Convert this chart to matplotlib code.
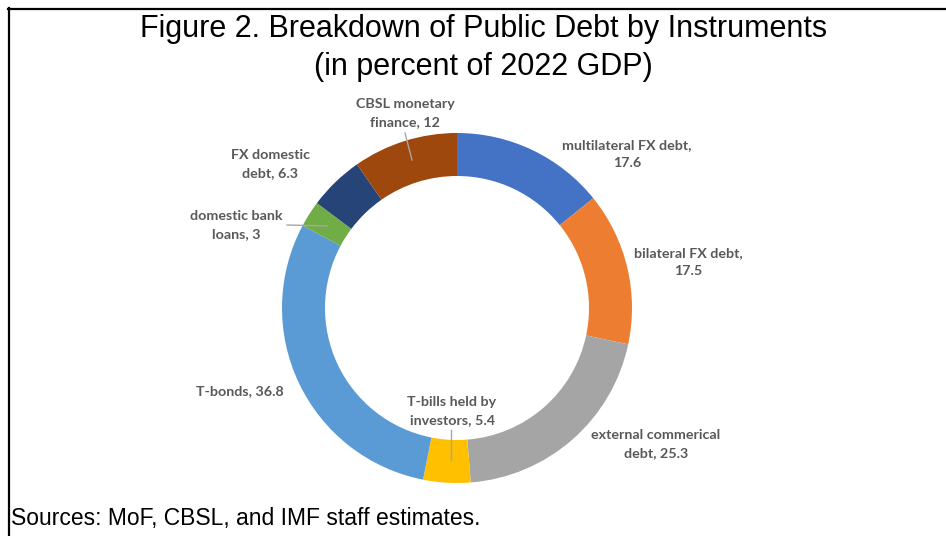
import matplotlib
matplotlib.use("Agg")
import matplotlib.pyplot as plt
from matplotlib.lines import Line2D

# Debt instruments, clockwise from 12 o'clock (percent of 2022 GDP)
categories = [
    "multilateral FX debt",
    "bilateral FX debt",
    "external commerical debt",
    "T-bills held by investors",
    "T-bonds",
    "domestic bank loans",
    "FX domestic debt",
    "CBSL monetary finance",
]
values = [17.6, 17.5, 25.3, 5.4, 36.8, 3, 6.3, 12]
label_names = [
    "multilateral FX debt,",
    "bilateral FX debt,",
    "external commerical\ndebt,",
    "T-bills held by\ninvestors,",
    "T-bonds,",
    "domestic bank\nloans,",
    "FX domestic\ndebt,",
    "CBSL monetary\nfinance,",
]
colors = ["#4472C4", "#ED7D31", "#A5A5A5", "#FFC000",
          "#5B9BD5", "#70AD47", "#264478", "#9E480E"]

W, H = 946, 536
fig = plt.figure(figsize=(W / 100, H / 100), dpi=100)
ax = fig.add_axes([0, 0, 1, 1])

def fy(y):
    # convert a top-down pixel row into the axes' upward y
    return H - y

cx, cy, r_out, ring = 457, 308, 175, 43
ax.pie(values, colors=colors, startangle=90, counterclock=False,
       center=(cx, fy(cy)), radius=r_out, frame=True,
       wedgeprops=dict(width=ring, linewidth=0))
ax.set_xlim(0, W)
ax.set_ylim(0, H)
ax.set_aspect("equal")
ax.axis("off")

# data label placement (pixel centres) and the short leader lines
label_pos = [(627, 154), (688, 262), (656, 444), (452, 411),
             (240, 391), (236, 225), (270, 164), (405, 113)]
label_font = dict(family=["Lato", "DejaVu Sans"], fontweight="bold",
                  fontsize=10.3, color="#595959", linespacing=1.55)
for name, v, (lx, ly) in zip(label_names, values, label_pos):
    if "\n" in name or name.startswith("T-bonds"):
        txt = f"{name} {v:g}"
    else:
        txt = f"{name}\n{v:g}"
    ax.text(lx, fy(ly), txt, ha="center", va="center", multialignment="center",
            **label_font)

leaders = [((405, 133), (412, 160)),
           ((287, 225), (327, 226)),
           ((451, 430), (451, 460))]
for (x0, y0), (x1, y1) in leaders:
    ax.add_line(Line2D([x0, x1], [fy(y0), fy(y1)], color="#A6A6A6", lw=1))

title_font = dict(family=["Liberation Sans", "DejaVu Sans"], fontsize=22, color="black")
ax.text(483.5, fy(37), "Figure 2. Breakdown of Public Debt by Instruments",
        ha="center", va="baseline", **title_font)
ax.text(483.5, fy(75), "(in percent of 2022 GDP)",
        ha="center", va="baseline", **title_font)

ax.text(11, fy(525), "Sources: MoF, CBSL, and IMF staff estimates.",
        ha="left", va="baseline", family=["Liberation Sans", "DejaVu Sans"],
        fontsize=16.5, color="black")

# outer frame: top and left rules
ax.add_line(Line2D([8, W], [fy(8.5), fy(8.5)], color="black", lw=1.6))
ax.add_line(Line2D([8.5, 8.5], [fy(8), 0], color="black", lw=1.6))

fig.savefig("out.png", dpi=100)
